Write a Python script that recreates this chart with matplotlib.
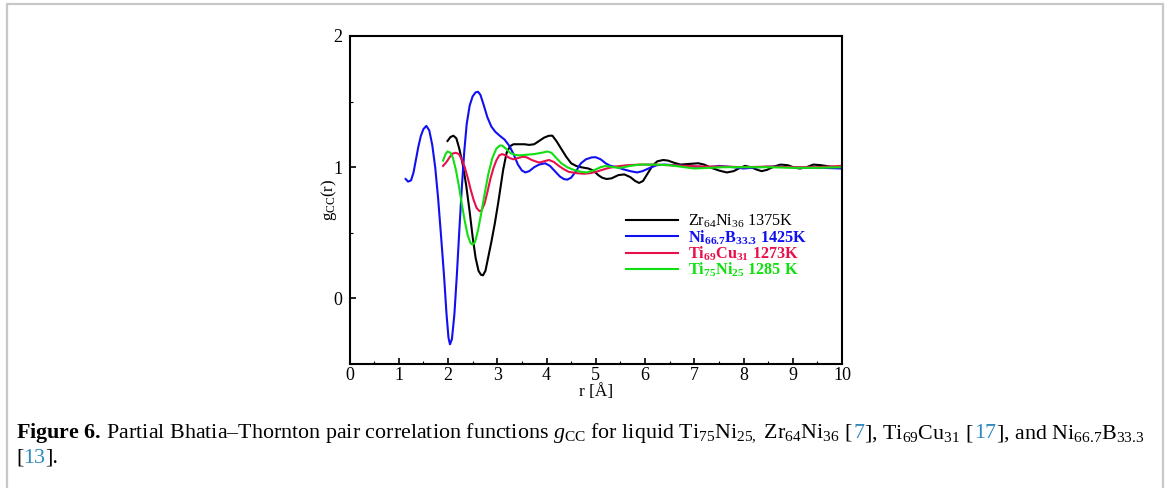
import matplotlib
matplotlib.use("Agg")
import matplotlib.pyplot as plt
from matplotlib.patches import Rectangle
from matplotlib.ticker import MultipleLocator

plt.rcParams['font.family'] = ['Liberation Serif', 'DejaVu Serif']
plt.rcParams['mathtext.fontset'] = 'custom'
plt.rcParams['mathtext.rm'] = 'Liberation Serif'
plt.rcParams['mathtext.it'] = 'Liberation Serif:italic'
plt.rcParams['mathtext.bf'] = 'Liberation Serif:bold'

# ---------------- data ----------------
r_nib = [1.14, 1.19, 1.25, 1.3, 1.35, 1.4, 1.45, 1.5, 1.56, 1.62, 1.68, 1.74, 1.8, 1.86,
         1.92, 1.97, 2.01, 2.04, 2.08, 2.13, 2.18, 2.23, 2.28, 2.33, 2.38, 2.44, 2.5, 2.56,
         2.61, 2.66, 2.72, 2.8, 2.88, 2.96, 3.05, 3.15, 3.25, 3.33, 3.42, 3.5, 3.57, 3.65,
         3.75, 3.85, 3.97, 4.07, 4.17, 4.27, 4.35, 4.42, 4.5, 4.6, 4.7, 4.8, 4.92, 5.0,
         5.1, 5.2, 5.3, 5.43, 5.55, 5.7, 5.84, 5.95, 6.1, 6.24, 6.4, 6.6, 6.8, 7.0, 7.3,
         7.5, 7.8, 8.0, 8.3, 8.6, 9.0, 9.3, 9.6, 10.0]
g_nib = [0.91, 0.89, 0.90, 0.96, 1.06, 1.16, 1.24, 1.29, 1.315, 1.28, 1.17, 1.0, 0.76, 0.47,
         0.17, -0.12, -0.30, -0.35, -0.31, -0.12, 0.18, 0.52, 0.84, 1.12, 1.33, 1.47, 1.54, 1.57,
         1.575, 1.55, 1.48, 1.38, 1.31, 1.27, 1.24, 1.21, 1.16, 1.10, 1.02, 0.975, 0.96, 0.97,
         1.0, 1.02, 1.03, 1.01, 0.97, 0.93, 0.91, 0.905, 0.92, 0.97, 1.03, 1.06, 1.075, 1.076,
         1.06, 1.03, 1.01, 1.0, 0.985, 0.97, 0.96, 0.97, 0.995, 1.015, 1.02, 1.015, 1.01, 1.005, 1.0,
         1.01, 1.0, 0.99, 1.0, 1.005, 1.0, 0.995, 0.995, 0.99]

r_zrni = [1.99, 2.05, 2.11, 2.17, 2.23, 2.3, 2.37, 2.44, 2.5, 2.56, 2.62, 2.67, 2.71, 2.76,
          2.82, 2.88, 2.95, 3.02, 3.06, 3.12, 3.19, 3.26, 3.33, 3.45, 3.55, 3.65, 3.75, 3.85,
          3.95, 4.05, 4.12, 4.2, 4.3, 4.4, 4.5, 4.6, 4.7, 4.85, 4.95, 5.05, 5.13, 5.22, 5.32,
          5.46, 5.58, 5.7, 5.8, 5.88, 5.96, 6.05, 6.15, 6.25, 6.37, 6.47, 6.58, 6.72, 6.9,
          7.08, 7.2, 7.35, 7.5, 7.66, 7.8, 7.93, 8.03, 8.15, 8.28, 8.37, 8.48, 8.62, 8.75,
          8.9, 9.05, 9.15, 9.28, 9.42, 9.58, 9.75, 9.9, 10.0]
g_zrni = [1.20, 1.23, 1.24, 1.22, 1.14, 1.02, 0.86, 0.66, 0.47, 0.31, 0.21, 0.18, 0.176, 0.21,
          0.32, 0.43, 0.57, 0.73, 0.83, 0.98, 1.11, 1.16, 1.175, 1.175, 1.175, 1.17, 1.175, 1.2,
          1.225, 1.24, 1.24, 1.2, 1.14, 1.08, 1.03, 1.01, 1.0, 0.99, 0.975, 0.94, 0.92, 0.91, 0.915,
          0.94, 0.945, 0.925, 0.895, 0.88, 0.895, 0.95, 1.01, 1.045, 1.055, 1.05, 1.035, 1.02, 1.025,
          1.03, 1.02, 0.995, 0.975, 0.96, 0.97, 0.995, 1.01, 1.0, 0.98, 0.97, 0.98, 1.005, 1.02,
          1.015, 0.995, 0.99, 1.0, 1.02, 1.015, 1.005, 1.0, 1.0]

r_ticu = [1.9, 1.97, 2.04, 2.1, 2.16, 2.22, 2.28, 2.34, 2.4, 2.46, 2.52, 2.58, 2.64, 2.68,
          2.74, 2.8, 2.86, 2.92, 2.98, 3.04, 3.1, 3.17, 3.25, 3.33, 3.42, 3.52, 3.6, 3.7,
          3.85, 3.95, 4.05, 4.15, 4.25, 4.35, 4.45, 4.6, 4.76, 4.9, 5.05, 5.22, 5.4, 5.63,
          5.9, 6.2, 6.5, 6.8, 7.2, 7.6, 8.0, 8.5, 9.0, 9.5, 10.0]
g_ticu = [1.01, 1.04, 1.08, 1.105, 1.11, 1.10, 1.06, 1.0, 0.92, 0.83, 0.75, 0.69, 0.665, 0.67,
          0.72, 0.81, 0.91, 0.99, 1.05, 1.09, 1.10, 1.09, 1.07, 1.06, 1.07, 1.08, 1.075, 1.055,
          1.035, 1.045, 1.055, 1.04, 1.01, 0.985, 0.965, 0.955, 0.95, 0.955, 0.97, 0.99, 1.005, 1.015,
          1.02, 1.02, 1.015, 1.01, 1.005, 1.005, 1.0, 1.005, 1.0, 1.0, 1.01]

r_tini = [1.9, 1.95, 1.99, 2.05, 2.1, 2.16, 2.22, 2.28, 2.34, 2.4, 2.46, 2.5, 2.55, 2.61,
          2.68, 2.75, 2.82, 2.9, 2.98, 3.05, 3.1, 3.18, 3.26, 3.35, 3.45, 3.6, 3.75, 3.9,
          4.02, 4.1, 4.2, 4.3, 4.42, 4.55, 4.7, 4.82, 4.95, 5.1, 5.2, 5.35, 5.5, 5.7, 5.9,
          6.2, 6.5, 6.8, 7.0, 7.3, 7.6, 8.0, 8.5, 9.0, 9.5, 10.0]
g_tini = [1.05, 1.10, 1.12, 1.11, 1.07, 0.98, 0.86, 0.72, 0.59, 0.48, 0.42, 0.41, 0.43, 0.52,
          0.66, 0.81, 0.95, 1.07, 1.14, 1.165, 1.165, 1.14, 1.11, 1.095, 1.09, 1.095, 1.10, 1.11,
          1.12, 1.11, 1.07, 1.03, 1.0, 0.98, 0.965, 0.96, 0.975, 1.0, 1.01, 1.0, 0.995, 1.01, 1.02,
          1.02, 1.015, 1.0, 0.99, 0.995, 1.0, 1.0, 1.0, 0.995, 0.995, 1.0]

labels = ["Zr$_{64}$Ni$_{36}$ 1375K",
          r"$\mathbf{Ni_{66.7}B_{33.3}}$ 1425K",
          r"$\mathbf{Ti_{69}Cu_{31}}$ 1273K",
          r"$\mathbf{Ti_{75}Ni_{25}}$ 1285 K"]
colors = ["#000000", "#1010f0", "#e8104c", "#10e010"]
weights = ["normal", "bold", "bold", "bold"]
series = [(r_zrni, g_zrni), (r_nib, g_nib), (r_ticu, g_ticu), (r_tini, g_tini)]

xticks = list(range(0, 11))
yticks = [0, 1, 2]

# ---------------- figure ----------------
fig = plt.figure(figsize=(11.7, 4.88), dpi=100)
fig.patches.append(Rectangle((7 / 1170, -0.1), 1156 / 1170, 1.1 - 4 / 488,
                             transform=fig.transFigure, fill=False,
                             edgecolor="#c8c8c8", linewidth=1.6))

ax = fig.add_axes([349.5 / 1170, 1 - 364 / 488, 492.5 / 1170, 328 / 488])
for (rr, gg), c, lab in zip(series, colors, labels):
    ax.plot(rr, gg, color=c, lw=1.5, label=lab)

ax.set_xlim(0, 10)
ax.set_ylim(-0.5, 2)
ax.set_xticks(xticks)
ax.set_yticks(yticks)
ax.xaxis.set_minor_locator(MultipleLocator(0.5))
ax.yaxis.set_minor_locator(MultipleLocator(0.5))
ax.tick_params(which="both", direction="in", labelsize=13, top=False, right=False)
ax.tick_params(which="major", length=4, width=1.2)
ax.tick_params(which="minor", length=2.5, width=0.8)
ax.tick_params(axis="x", pad=2)
ax.tick_params(axis="y", pad=5)
for s in ax.spines.values():
    s.set_linewidth(1.5)
ax.set_xlabel("r [Å]", fontsize=12.5, labelpad=0.5)
ax.set_ylabel("g$_{\\mathrm{CC}}$(r)", fontsize=12, labelpad=-4)

leg = ax.legend(loc="upper left", bbox_to_anchor=(0.545, 0.485), frameon=False,
                fontsize=11.7, handlelength=3.2, handletextpad=0.6,
                labelspacing=-0.14, borderpad=0)
for t, c, w in zip(leg.get_texts(), colors, weights):
    t.set_color(c)
    t.set_fontweight(w)

# ---------------- caption ----------------
cite = "#2f88c0"
line1 = [(r"$\mathbf{Figure\ 6.}$", "k"),
         (" Partial Bhatia–Thornton pair correlation functions $\\mathit{g}_{\\mathrm{CC}}$ for liquid "
          "Ti$_{75}$Ni$_{25,}$ Zr$_{64}$Ni$_{36}$ [", "k"),
         ("7", cite), ("], Ti$_{69}$Cu$_{31}$ [", "k"), ("17", cite),
         ("], and Ni$_{66.7}$B$_{33.3}$", "k")]
line2 = [("[", "k"), ("13", cite), ("].", "k")]

fig.canvas.draw()
renderer = fig.canvas.get_renderer()


def place(pieces, x0, y0, size):
    x = x0
    for txt, col in pieces:
        t = fig.text(x, y0, txt, color=col, fontsize=size, ha="left", va="baseline",
                     transform=None)
        bb = t.get_window_extent(renderer)
        x = bb.x1


place(line1, 16, 488 - 438, 15.85)
place(line2, 16, 488 - 463, 15.85)

fig.savefig("out.png", dpi=100)
